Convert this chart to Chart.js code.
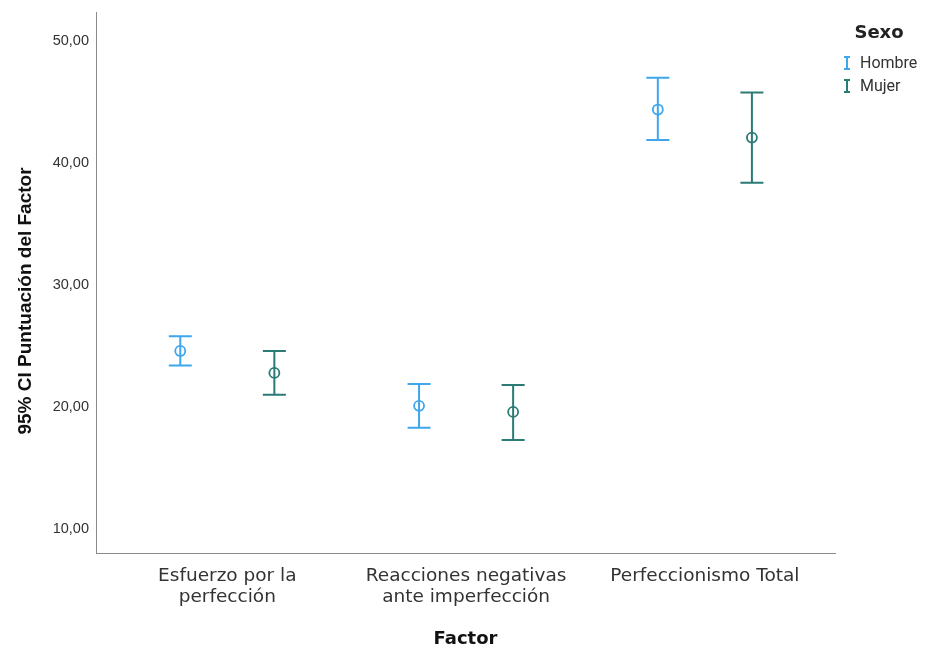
<!DOCTYPE html>
<html>
<head>
<meta charset="utf-8">
<script src="https://cdn.jsdelivr.net/npm/chart.js@4/dist/chart.umd.min.js"></script>
<style>
  html, body { margin: 0; padding: 0; background: #fff; }
  #wrap { width: 945px; height: 653px; }
</style>
</head>
<body>
<div id="wrap"><canvas id="grafico"></canvas></div>
<script>
// Categorías del eje X
const factores = [
    ['Esfuerzo por la', 'perfección'],
    ['Reacciones negativas', 'ante imperfección'],
    ['Perfeccionismo Total']
];

// Medias e intervalos de confianza al 95%
const hombreMedia = [24.6, 20.1, 44.4];
const hombreInf   = [23.4, 18.3, 41.9];
const hombreSup   = [25.8, 21.9, 47.0];

const mujerMedia  = [22.8, 19.6, 42.1];
const mujerInf    = [21.0, 17.3, 38.4];
const mujerSup    = [24.6, 21.8, 45.8];

const ticksY = [10, 20, 30, 40, 50];

const colorHombre = '#3ea6ec';
const colorMujer  = '#2a7a75';
const desplazamiento = 0.197; // separación de los grupos dentro de cada factor

const fuente = '"DejaVu Sans", "Liberation Sans", sans-serif';

function puntos(medias, inf, sup, delta) {
    return medias.map((m, i) => ({ x: i + delta, y: m, lo: inf[i], hi: sup[i] }));
}

// Dibuja las barras de error
const barrasError = {
    id: 'barrasError',
    beforeDatasetsDraw(chart) {
        const c = chart.ctx;
        const sx = chart.scales.x, sy = chart.scales.y;
        chart.data.datasets.forEach(ds => {
            c.save();
            c.strokeStyle = ds.borderColor;
            c.lineWidth = 2;
            ds.data.forEach(p => {
                const x = sx.getPixelForValue(p.x);
                const yTop = sy.getPixelForValue(p.hi);
                const yBot = sy.getPixelForValue(p.lo);
                c.beginPath();
                c.moveTo(x, yTop); c.lineTo(x, yBot);
                c.moveTo(x - 11.5, yTop); c.lineTo(x + 11.5, yTop);
                c.moveTo(x - 11.5, yBot); c.lineTo(x + 11.5, yBot);
                c.stroke();
            });
            c.restore();
        });
    }
};

// Leyenda a la derecha
const leyenda = {
    id: 'leyenda',
    afterDraw(chart) {
        const c = chart.ctx;
        c.save();
        c.fillStyle = '#222';
        c.font = 'bold 18px ' + fuente;
        c.textAlign = 'center';
        c.textBaseline = 'middle';
        c.fillText('Sexo', 879, 33);
        chart.data.datasets.forEach((ds, i) => {
            const y = 63 + i * 23;
            c.strokeStyle = ds.borderColor;
            c.lineWidth = 2;
            c.beginPath();
            c.moveTo(847, y - 6); c.lineTo(847, y + 6);
            c.moveTo(844, y - 6); c.lineTo(850, y - 6);
            c.moveTo(844, y + 6); c.lineTo(850, y + 6);
            c.stroke();
            c.fillStyle = '#333';
            c.font = '16px Roboto, "Liberation Sans", sans-serif';
            c.textAlign = 'left';
            c.fillText(ds.label, 860, y + 1);
        });
        c.restore();
    }
};

new Chart(document.getElementById('grafico'), {
    type: 'scatter',
    data: {
        datasets: [
            {
                label: 'Hombre',
                data: puntos(hombreMedia, hombreInf, hombreSup, -desplazamiento),
                borderColor: colorHombre,
                backgroundColor: 'rgba(0,0,0,0)',
                pointRadius: 5,
                pointBorderWidth: 1.8,
                pointHoverRadius: 5
            },
            {
                label: 'Mujer',
                data: puntos(mujerMedia, mujerInf, mujerSup, desplazamiento),
                borderColor: colorMujer,
                backgroundColor: 'rgba(0,0,0,0)',
                pointRadius: 5,
                pointBorderWidth: 1.8,
                pointHoverRadius: 5
            }
        ]
    },
    options: {
        responsive: true,
        maintainAspectRatio: false,
        animation: false,
        layout: { padding: { top: 12, right: 110, bottom: 0, left: 0 } },
        plugins: {
            legend: { display: false },
            tooltip: { enabled: false }
        },
        scales: {
            x: {
                type: 'linear',
                min: -0.55,
                max: 2.545,
                grid: { display: false, drawTicks: false },
                border: { display: true, color: '#8a8a8a', width: 1 },
                afterBuildTicks(scale) {
                    scale.ticks = factores.map((f, i) => ({ value: i }));
                },
                afterFit(scale) { scale.height = 100; },
                ticks: {
                    padding: 13,
                    maxRotation: 0,
                    color: '#333',
                    font: { family: fuente, size: 18.5, lineHeight: 1.135 },
                    callback: (v) => factores[v]
                },
                title: {
                    display: true,
                    text: 'Factor',
                    color: '#111',
                    font: { family: fuente, size: 18, weight: 'bold' },
                    padding: { top: 0, bottom: 3 }
                }
            },
            y: {
                min: 8.03,
                max: 52.4,
                grid: { display: false, drawTicks: false },
                border: { display: true, color: '#8a8a8a', width: 1 },
                afterBuildTicks(scale) {
                    scale.ticks = ticksY.map(v => ({ value: v }));
                },
                afterFit(scale) {
                    scale.width = 96;
                    scale.paddingTop = 0;
                    scale.paddingBottom = 0;
                },
                ticks: {
                    padding: 7,
                    color: '#333',
                    font: { family: '"Liberation Sans", Arial, sans-serif', size: 14.5 },
                    callback: (v) => v.toFixed(2).replace('.', ',')
                },
                title: {
                    display: true,
                    text: '95% CI Puntuación del Factor' + '\u00A0'.repeat(7),
                    color: '#111',
                    font: { family: '"Liberation Sans", Arial, sans-serif', size: 19, weight: 'bold' },
                    padding: { top: 14, bottom: 4 }
                }
            }
        }
    },
    plugins: [barrasError, leyenda]
});
</script>
</body>
</html>
